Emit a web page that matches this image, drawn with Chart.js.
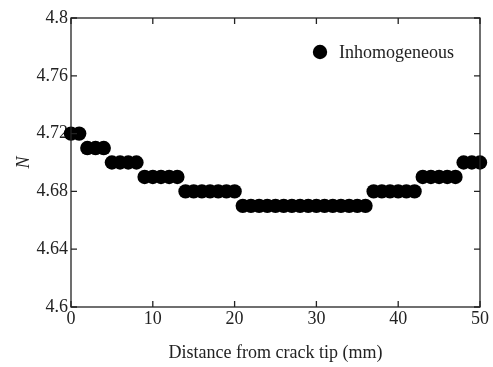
<!DOCTYPE html>
<html>
<head>
<meta charset="utf-8">
<script src="https://cdn.jsdelivr.net/npm/chart.js@4.4.1/dist/chart.umd.min.js"></script>
<style>
html,body{margin:0;padding:0;background:#fff;}
#wrap{width:493px;height:367px;position:relative;}
</style>
</head>
<body>
<div id="wrap"><canvas id="c" width="493" height="367"></canvas></div>
<script>
const distances = [0,1,2,3,4,5,6,7,8,9,10,11,12,13,14,15,16,17,18,19,20,21,22,23,24,25,26,27,28,29,30,31,32,33,34,35,36,37,38,39,40,41,42,43,44,45,46,47,48,49,50];
const nValues = [4.72,4.72,4.71,4.71,4.71,4.70,4.70,4.70,4.70,4.69,4.69,4.69,4.69,4.69,4.68,4.68,4.68,4.68,4.68,4.68,4.68,4.67,4.67,4.67,4.67,4.67,4.67,4.67,4.67,4.67,4.67,4.67,4.67,4.67,4.67,4.67,4.67,4.68,4.68,4.68,4.68,4.68,4.68,4.69,4.69,4.69,4.69,4.69,4.70,4.70,4.70];
const yTickValues = [4.6,4.64,4.68,4.72,4.76,4.8];
const yTickLabels = ["4.6","4.64","4.68","4.72","4.76","4.8"];
const xTickValues = [0,10,20,30,40,50];
const seriesLabel = "Inhomogeneous";

const FONT = "'Liberation Serif','Times New Roman',serif";
const INK = "#222";

const frameTicks = {
  id: 'frameTicks',
  afterDraw(chart) {
    const {ctx, chartArea: a, scales: {x, y}} = chart;
    ctx.save();
    ctx.strokeStyle = INK;
    ctx.lineWidth = 1.3;
    ctx.strokeRect(a.left, a.top, a.right - a.left, a.bottom - a.top);
    const L = 6;
    ctx.beginPath();
    xTickValues.forEach(v => {
      const px = x.getPixelForValue(v);
      ctx.moveTo(px, a.bottom); ctx.lineTo(px, a.bottom - L);
      ctx.moveTo(px, a.top); ctx.lineTo(px, a.top + L);
    });
    yTickValues.forEach(v => {
      const py = y.getPixelForValue(v);
      ctx.moveTo(a.left, py); ctx.lineTo(a.left + L, py);
      ctx.moveTo(a.right, py); ctx.lineTo(a.right - L, py);
    });
    ctx.stroke();
    // legend
    const ds = chart.data.datasets[0];
    const lx = a.left + 249, ly = a.top + 34;
    ctx.fillStyle = '#000';
    ctx.beginPath();
    ctx.arc(lx, ly, ds.pointRadius, 0, Math.PI * 2);
    ctx.fill();
    ctx.fillStyle = INK;
    ctx.font = "18px " + FONT;
    ctx.textBaseline = 'middle';
    ctx.textAlign = 'left';
    ctx.fillText(ds.label, lx + 19, ly + 1);
    ctx.restore();
  }
};

new Chart(document.getElementById('c'), {
  type: 'scatter',
  data: {
    datasets: [{
      label: seriesLabel,
      data: distances.map((d, i) => ({x: d, y: nValues[i]})),
      pointRadius: 7.2,
      pointHoverRadius: 7.2,
      pointBackgroundColor: '#000',
      pointBorderColor: '#000',
      pointBorderWidth: 0,
      clip: false
    }]
  },
  options: {
    responsive: false,
    animation: false,
    events: [],
    layout: {padding: {left: 0, top: 18, right: 13, bottom: 0}},
    plugins: {legend: {display: false}, tooltip: {enabled: false}},
    scales: {
      x: {
        type: 'linear', min: 0, max: 50,
        afterBuildTicks: s => { s.ticks = xTickValues.map(v => ({value: v})); },
        afterFit: s => { s.height = 60; },
        grid: {display: false, drawTicks: false},
        border: {display: false},
        ticks: {color: INK, font: {family: FONT, size: 18}, padding: 1, maxRotation: 0},
        title: {display: true, text: 'Distance from crack tip (mm)', color: INK,
                font: {family: FONT, size: 18}, padding: {top: 0, bottom: 3}}
      },
      y: {
        type: 'linear', min: 4.6, max: 4.8,
        afterBuildTicks: s => { s.ticks = yTickValues.map(v => ({value: v})); },
        afterFit: s => { s.width = 71; },
        grid: {display: false, drawTicks: false},
        border: {display: false},
        ticks: {color: INK, font: {family: FONT, size: 18}, padding: 3,
                callback: (v) => { const i = yTickValues.findIndex(t => Math.abs(t - v) < 1e-9); return i >= 0 ? yTickLabels[i] : ''; }},
        title: {display: true, text: 'N', color: INK,
                font: {family: FONT, size: 18, style: 'italic'}, padding: {top: 13, bottom: 0}}
      }
    }
  },
  plugins: [frameTicks]
});
</script>
</body>
</html>
